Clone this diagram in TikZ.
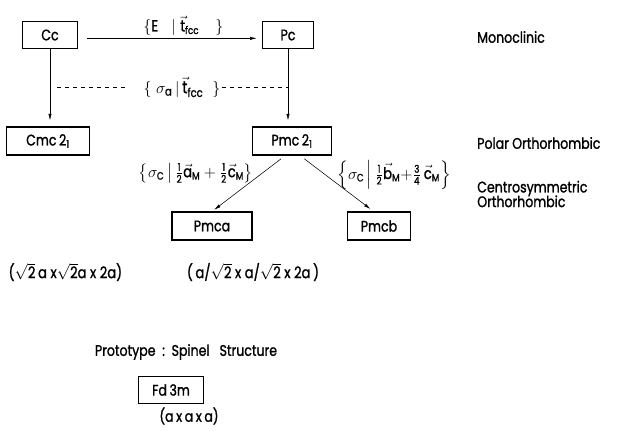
\documentclass[tikz,border=0pt]{standalone}
\usepackage{amsmath}
\usepackage{fontspec}
\setmainfont{Poppins}[FakeStretch=0.82, UprightFeatures={FakeBold=1.2}]
\usetikzlibrary{arrows.meta}

\begin{document}
\begin{tikzpicture}[x=0.75pt, y=-0.75pt,
    >={Latex[length=5pt,width=2.4pt]},
    font=\fontsize{11.5}{13}\selectfont,
    grp/.style={draw, thick, inner sep=0pt},
    lbl/.style={inner sep=1pt, font=\fontsize{12}{14}\selectfont},
    kind/.style={anchor=west, align=left, inner sep=0pt}]
  \useasboundingbox (0,0) rectangle (618,430);

  % Monoclinic row
  \node [grp, minimum width=41pt, minimum height=20pt] (Cc) at (50,35) {Cc};
  \node [grp, minimum width=38pt, minimum height=20pt] (Pc) at (288,35) {Pc};
  \node [kind] (mono) at (477,37) {Monoclinic};

  \draw [->, shorten <=7pt, shorten >=4pt] ([yshift=-2.5pt]Cc.east) -- ([yshift=-2.5pt]Pc.west)
    node [lbl, midway, above=1pt, xshift=10pt]
    {$\{\text{E}\;\;\;|\;\vec{\text{t}}_{\text{fcc}}\quad\}$};

  % Polar orthorhombic row
  \node [grp, minimum width=62pt, minimum height=21pt] (Cmc) at (48,141) {Cmc\,2\textsubscript{1}};
  \node [grp, minimum width=59pt, minimum height=21pt] (Pmc) at (292,141) {Pmc\,2\textsubscript{1}};
  \node [kind] (polar) at (477,143) {Polar Orthorhombic};

  \draw [->, shorten >=4.5pt] (Cc.south) -- (Cc.south |- Cmc.north);
  \draw [->, shorten >=4.5pt] (Pc.south) -- (Pc.south |- Pmc.north);

  % dashed link between the two columns
  \node [lbl, font=\fontsize{13}{15}\selectfont] (sigA) at (182,87)
    {$\{\;\sigma_{\text{a}}\,|\,\vec{\text{t}}_{\text{fcc}}\;\;\}$};
  \coordinate (dl) at (57,87);
  \draw [dashed] (dl) -- ([xshift=-10pt]sigA.west);
  \draw [dashed] (sigA.east) -- (Pc.south |- sigA);

  % Centrosymmetric row
  \node [grp, minimum width=60pt, minimum height=21pt] (Pmca) at (212,226) {Pmca};
  \node [grp, minimum width=47pt, minimum height=21pt] (Pmcb) at (379,226) {Pmcb};
  \node [kind] (centro) at (477,194) {Centrosymmetric\\[-2pt]Orthorhombic};

  \draw [->, shorten <=4pt, shorten >=2pt] ([xshift=-5pt]Pmc.south) -- (Pmca.north);
  \draw [->, shorten <=4pt, shorten >=3pt] ([xshift=6pt]Pmc.south) -- ([xshift=-4pt]Pmcb.north);

  \node [lbl] (sigL) at (196,173)
    {$\left\{\sigma_{\text{C}}\,\middle|\,\tfrac{\text{1}}{\text{2}}\vec{\text{a}}_{\text{M}}+\tfrac{\text{1}}{\text{2}}\vec{\text{c}}_{\text{M}}\right\}$};
  \node [lbl] (sigR) at (394,175)
    {$\left\{\sigma_{\text{C}}\,\middle|\,\tfrac{\text{1}}{\text{2}}\vec{\text{b}}_{\text{M}}{+}\tfrac{\text{3}}{\text{4}}\,\vec{\text{c}}_{\text{M}}\right\}$};

  % cell sizes
  \node [lbl, anchor=west] (cellC) at (7,272) {($\sqrt{\text{2}}$\,a\ x$\sqrt{\text{2}}$a\ x\ 2a)};
  \node [lbl] (cellP) at (253,272) {(\,a/$\sqrt{\text{2}}$\ x\ a/$\sqrt{\text{2}}$\ x\ 2a\,)};

  % prototype
  \node [lbl, font=\fontsize{11.5}{13}\selectfont] (proto) at (186,352) {Prototype\ \ :\ \ Spinel\ \ \ Structure};
  \node [grp, minimum width=49pt, minimum height=20pt] (Fd) at (171,390) {Fd\,3m};
  \node [lbl, font=\fontsize{11.5}{13}\selectfont] (cellF) at (189,416) {(a\,x\,a\,x\,a)};
\end{tikzpicture}
\end{document}
